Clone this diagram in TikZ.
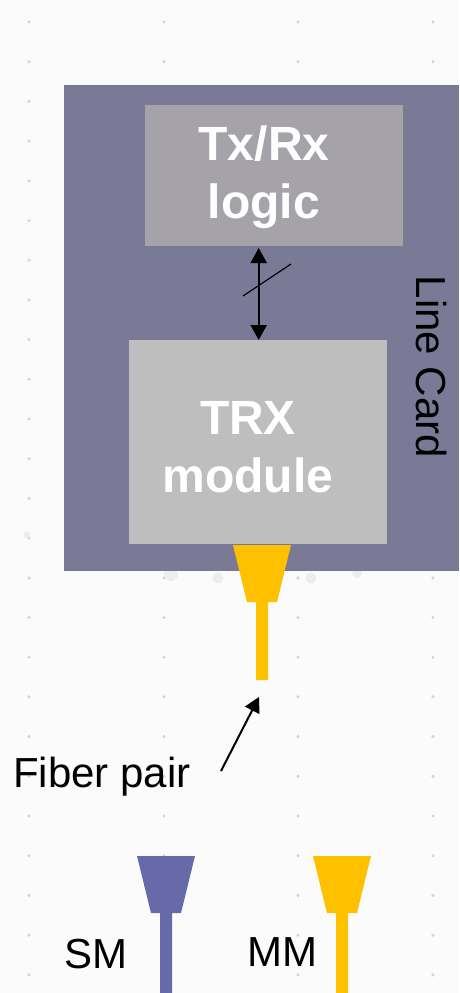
\documentclass[tikz,border=0pt]{standalone}
\usepackage{fontspec}
\setmainfont{Liberation Sans}
\usetikzlibrary{arrows.meta}
\definecolor{pagebg}{HTML}{FBFBFB}
\definecolor{cardcol}{HTML}{7A7A96}
\definecolor{logiccol}{HTML}{A5A2A9}
\definecolor{trxcol}{HTML}{BEBEBE}
\definecolor{goldcol}{HTML}{FFC000}
\definecolor{smcol}{HTML}{666AA8}
\definecolor{dotcol}{HTML}{D4D4D4}
\definecolor{blobcol}{HTML}{EDEDED}
\tikzset{
  panel/.style={draw=none,inner sep=0pt,outer sep=0pt,anchor=north west},
  boldlabel/.style={text=white,font=\fontsize{48}{58}\selectfont\bfseries,align=center,inner sep=0pt},
  plainlabel/.style={text=black,font=\fontsize{42}{50}\selectfont,inner sep=0pt},
  linkarrow/.style={line width=2pt,{Stealth[length=15pt,width=16pt,inset=0pt]}-{Stealth[length=15pt,width=16pt,inset=0pt]}},
  pointer/.style={line width=2pt,-{Stealth[length=15pt,width=16pt,inset=0pt]}},
  bgdot/.style={fill=dotcol,draw=none}
}
\begin{document}
\begin{tikzpicture}[x=1pt,y=-1pt]
\useasboundingbox (0,0) rectangle (459,993);
\fill[pagebg] (0,0) rectangle (459,993);
% faint background dots
\foreach \c in {0,...,24}{
  \pgfmathsetmacro{\yy}{22+39.7*\c}
  \foreach \xx in {29,164,298,433}{
    \fill[bgdot] (\xx,\yy) circle (1.7pt);
  }
}
\fill[blobcol] (171,574) circle (7pt);
\fill[blobcol] (218,578) circle (5.5pt);
\fill[blobcol] (311,578) circle (5.5pt);
\fill[blobcol] (357,573) circle (5pt);
\fill[blobcol] (27,535) circle (3.5pt);
% line card
\node[panel,fill=cardcol,minimum width=395pt,minimum height=486pt] (card) at (64,85) {};
\node[panel,fill=logiccol,minimum width=258pt,minimum height=141pt] (logic) at (145,105) {};
\node[panel,fill=trxcol,minimum width=258pt,minimum height=204pt] (trx) at (129,340) {};
\node[boldlabel] (logictext) at (264,177.5) {Tx/Rx\\logic};
\node[boldlabel] (trxtext) at (248,447.5) {TRX\\module};
\node[plainlabel,rotate=-90] (cardtext) at (432,367) {Line Card};
% bus between logic and TRX
\coordinate (busTop) at (258.7,248);
\coordinate (busBot) at (258.7,340);
\draw[linkarrow] (busTop) -- (busBot);
\coordinate (slashA) at (243,296);
\coordinate (slashB) at (291,264);
\draw[line width=1.2pt] (slashA) -- (slashB);
% fiber connector
\fill[goldcol] (233,545) -- (291,545) -- (277,602) -- (268,602) -- (268,680) -- (256,680) -- (256,602) -- (247,602) -- cycle;
\coordinate (fiberEnd) at (259,697);
\node[plainlabel,anchor=base west] (fiberlabel) at (13,787) {Fiber pair};
\coordinate (pointerStart) at (221,771);
\draw[pointer] (pointerStart) -- (fiberEnd);
% legend
\fill[smcol] (137,856) -- (195,856) -- (181,913) -- (172,913) -- (172,993) -- (160,993) -- (160,913) -- (151,913) -- cycle;
\fill[goldcol] (313,856) -- (371,856) -- (357,913) -- (348,913) -- (348,993) -- (336,993) -- (336,913) -- (327,913) -- cycle;
\node[plainlabel,anchor=base west] (smlabel) at (64,968) {SM};
\node[plainlabel,anchor=base west] (mmlabel) at (247,966) {MM};
\end{tikzpicture}
\end{document}
